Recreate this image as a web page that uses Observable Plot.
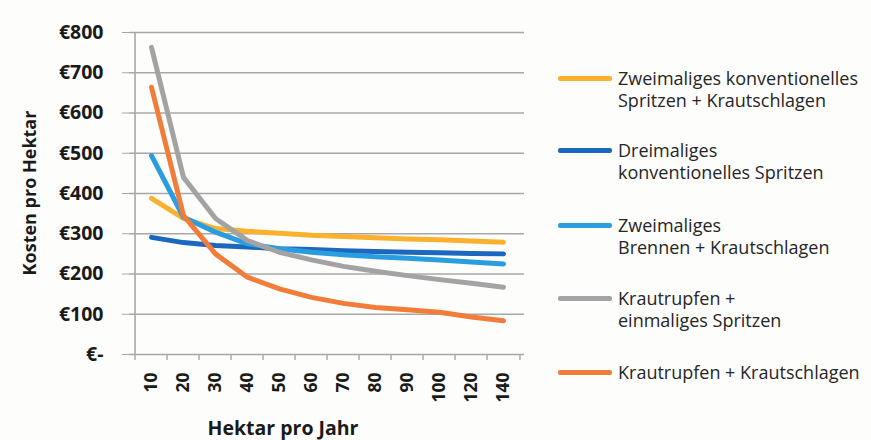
<!DOCTYPE html>
<html>
<head>
<meta charset="utf-8">
<script src="https://cdn.jsdelivr.net/npm/d3@7"></script>
<script src="https://cdn.jsdelivr.net/npm/@observablehq/plot@0.6"></script>
<style>
  html, body { margin: 0; padding: 0; background: #fff; }
  #wrap { position: relative; width: 871px; height: 440px; font-family: "Open Sans", sans-serif; background: #fdfdfc; overflow: hidden; }
  #chart { position: absolute; left: 0; top: 0; }
  .ytitle { position: absolute; left: 29px; top: 193px; transform: translate(-50%, -50%) rotate(-90deg); font-weight: 700; font-size: 18px; line-height: 18px; color: #1a1a1a; white-space: nowrap; }
  .xtitle { position: absolute; left: 283px; top: 418px; transform: translateX(-50%); font-weight: 700; font-size: 19.5px; line-height: 19px; color: #1a1a1a; white-space: nowrap; }
  .legend { position: absolute; left: 558px; top: 0; }
  .item { position: absolute; left: 0; width: 320px; }
  .sw { position: absolute; left: 0; width: 54px; height: 5px; border-radius: 2px; }
  .lt { position: absolute; left: 60px; font-size: 18px; line-height: 22px; color: #262626; white-space: nowrap; }
  svg text { fill: #1a1a1a; }
</style>
</head>
<body>
<div id="wrap">
  <div id="chart"></div>
  <div class="ytitle">Kosten pro Hektar</div>
  <div class="xtitle">Hektar pro Jahr</div>
  <div class="legend" id="legend"></div>
</div>
<script>
const categories = ["10","20","30","40","50","60","70","80","90","100","120","140"];
const yTicks = [0,100,200,300,400,500,600,700,800];
const seriesNames = [
  "Zweimaliges konventionelles\nSpritzen + Krautschlagen",
  "Dreimaliges\nkonventionelles Spritzen",
  "Zweimaliges\nBrennen + Krautschlagen",
  "Krautrupfen +\neinmaliges Spritzen",
  "Krautrupfen + Krautschlagen"
];
const seriesColors = ["#fbb12e", "#1c68be", "#2a9de0", "#a3a3a3", "#f27c3a"];
const zweimaligSpritzen = [388,338,313,306,301,296,293,290,287,285,282,279];
const dreimaligSpritzen = [291,278,271,267,263,261,258,256,254,253,251,250];
const zweimaligBrennen  = [494,341,304,275,263,254,248,243,239,235,230,225];
const rupfenSpritzen    = [763,440,338,283,254,235,219,207,196,186,177,167];
const rupfenSchlagen    = [664,345,250,192,163,142,127,117,111,105,93,84];

const seriesValues = [zweimaligSpritzen, dreimaligSpritzen, zweimaligBrennen, rupfenSpritzen, rupfenSchlagen];
const data = seriesValues.flatMap((vals, i) =>
  vals.map((v, j) => ({series: seriesNames[i], cat: categories[j], value: v})));

const W = 545, ML = 129, MR = 21;
const half = (W - ML - MR) / categories.length / 2;

const chart = Plot.plot({
  width: W,
  height: 440,
  marginLeft: ML,
  marginRight: MR,
  marginTop: 32,
  marginBottom: 86,
  style: {fontFamily: "'Open Sans', sans-serif", background: "transparent"},
  x: {type: "point", domain: categories, padding: 0.5},
  y: {domain: [0, 800]},
  color: {domain: seriesNames, range: seriesColors},
  marks: [
    Plot.ruleY(yTicks.filter(d => d > 0), {stroke: "#a8a8a8", strokeWidth: 1.6}),
    Plot.ruleY([0], {stroke: "#a8a8a8", strokeWidth: 1.6}),
    Plot.ruleX([categories[0]], {dx: -half, y1: 0, y2: 800, stroke: "#a8a8a8", strokeWidth: 1.6}),
    Plot.ruleX(categories, {x: d => d, dx: -half, y1: 0, y2: -15, stroke: "#a8a8a8", strokeWidth: 1.4}),
    Plot.ruleX([categories[categories.length - 1]], {dx: half, y1: 0, y2: -15, stroke: "#a8a8a8", strokeWidth: 1.4}),
    Plot.axisY({ticks: yTicks, tickSize: 7, tickPadding: 19, stroke: "#a8a8a8",
      tickFormat: d => d === 0 ? "€-" : "€" + d, fontSize: 19.5, fontWeight: 700, label: null}),
    Plot.axisX({tickRotate: -90, tickSize: 0, tickPadding: 18, fontSize: 17.5, fontWeight: 700, label: null}),
    Plot.line(data, {x: "cat", y: "value", z: "series", stroke: "series", strokeWidth: 5, strokeLinejoin: "round", strokeLinecap: "round"})
  ]
});
document.getElementById("chart").appendChild(chart);

const legendTops = [78, 150, 225, 298, 372];
const legend = document.getElementById("legend");
seriesNames.forEach((name, i) => {
  const item = document.createElement("div");
  item.className = "item";
  item.style.top = legendTops[i] + "px";
  const sw = document.createElement("div");
  sw.className = "sw";
  sw.style.background = seriesColors[i];
  sw.style.top = "-2.5px";
  const lt = document.createElement("div");
  lt.className = "lt";
  lt.style.top = "-11px";
  lt.innerHTML = name.split("\n").join("<br>");
  item.appendChild(sw);
  item.appendChild(lt);
  legend.appendChild(item);
});
</script>
</body>
</html>
